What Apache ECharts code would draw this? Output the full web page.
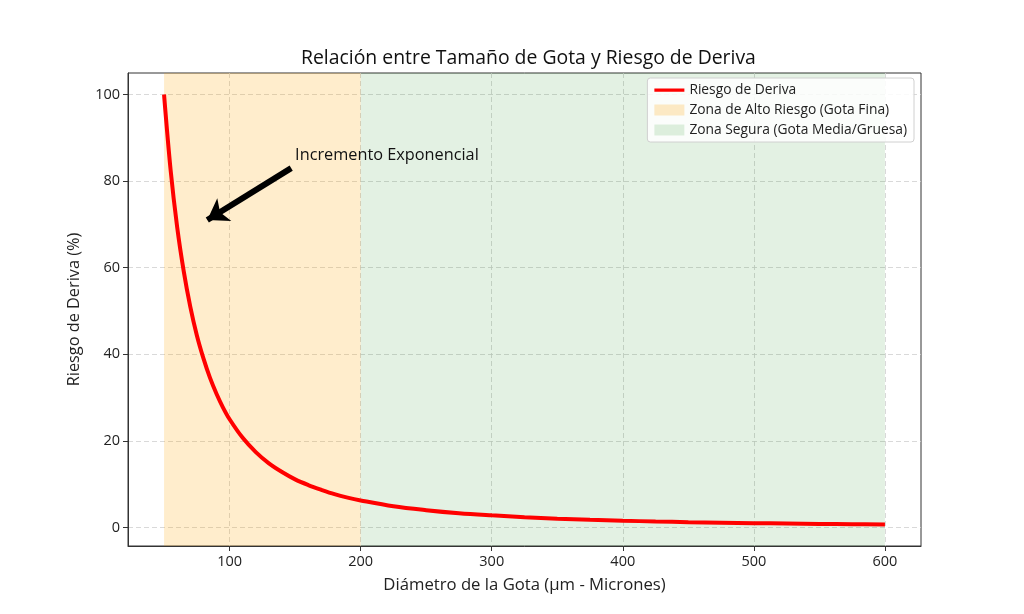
<!DOCTYPE html>
<html><head><meta charset="utf-8">
<script src="https://cdn.jsdelivr.net/npm/echarts@6/dist/echarts.min.js"></script>
<style>html,body{margin:0;padding:0;background:#fff}#c{width:1024px;height:614px}</style>
</head><body><div id="c"></div>
<script>
const diameters = [50,55,60,65,70,75,80,85,90,95,100,110,120,130,140,150,160,170,180,190,200,225,250,275,300,325,350,375,400,425,450,475,500,525,550,575,600];
const risk = [100,82.6,69.4,59.2,51.0,44.4,39.1,34.6,30.9,27.7,25.0,20.7,17.4,14.8,12.8,11.1,9.8,8.7,7.7,6.9,6.25,4.9,4.0,3.3,2.8,2.37,2.04,1.78,1.56,1.38,1.23,1.11,1.0,0.91,0.83,0.76,0.69];
const xTicks = [100,200,300,400,500,600];
const yTicks = [0,20,40,60,80,100];
const highRiskZone = [50,200];
const safeZone = [200,600];
const arrowFrom = [147,83];
const arrowTo = [83,71];
const annotationAt = [150,86];
const annotationText = 'Incremento Exponencial';

const FONT = 'Open Sans';
const chart = echarts.init(document.getElementById('c'));
const axisText = {color:'#222', fontSize:14.5, fontFamily:FONT};
const lineIcon = 'path://M0,0 L0,0 Z M0,11 L0,11 Z M0,4 L30,4 L30,7.2 L0,7.2 Z';
chart.setOption({
  animation:false,
  backgroundColor:'#fff',
  textStyle:{fontFamily:FONT},
  title:{text:'Relación entre Tamaño de Gota y Riesgo de Deriva', left:296, top:44,
    textStyle:{fontSize:19.4, fontWeight:'normal', color:'#111', fontFamily:FONT}},
  grid:{left:128, right:103, top:73, bottom:68, show:true, borderColor:'#333', borderWidth:1, backgroundColor:'transparent'},
  legend:{orient:'vertical', right:110, top:78, padding:[5,7], itemGap:6, itemWidth:30, itemHeight:11,
    backgroundColor:'rgba(255,255,255,0.85)', borderColor:'#d0d0d0', borderWidth:1, borderRadius:3,
    textStyle:{fontSize:13.8, color:'#222', fontFamily:FONT},
    data:[{name:'Riesgo de Deriva', icon:lineIcon},
          {name:'Zona de Alto Riesgo (Gota Fina)', icon:'rect'},
          {name:'Zona Segura (Gota Media/Gruesa)', icon:'rect'}]},
  xAxis:{type:'value', min:22.5, max:627.5, name:'Diámetro de la Gota (µm - Micrones)', nameLocation:'middle', nameGap:31,
    nameTextStyle:{fontSize:16.7, color:'#222', fontFamily:FONT},
    axisLine:{show:true, onZero:false, lineStyle:{color:'#333'}},
    axisTick:{show:true, customValues:xTicks, length:5, lineStyle:{color:'#333'}},
    axisLabel:{customValues:xTicks, margin:8, ...axisText},
    splitLine:{show:true, lineStyle:{color:'#cfcfcf', type:[5,3], width:0.8}}},
  yAxis:{type:'value', min:-4.28, max:104.97, name:'Riesgo de Deriva (%)', nameLocation:'middle', nameGap:46,
    nameTextStyle:{fontSize:16.3, color:'#222', fontFamily:FONT},
    axisLine:{show:true, onZero:false, lineStyle:{color:'#333'}},
    axisTick:{show:true, customValues:yTicks, length:5, lineStyle:{color:'#333'}},
    axisLabel:{customValues:yTicks, margin:8, ...axisText},
    splitLine:{show:true, lineStyle:{color:'#cfcfcf', type:[5,3], width:0.8}}},
  series:[
    {name:'Zona de Alto Riesgo (Gota Fina)', type:'line', data:[], itemStyle:{color:'rgba(255,165,0,0.22)'},
      markArea:{silent:true, itemStyle:{color:'rgba(255,165,0,0.2)'}, data:[[{xAxis:highRiskZone[0]},{xAxis:highRiskZone[1]}]]}},
    {name:'Zona Segura (Gota Media/Gruesa)', type:'line', data:[], itemStyle:{color:'rgba(0,128,0,0.12)'},
      markArea:{silent:true, itemStyle:{color:'rgba(0,128,0,0.11)'}, data:[[{xAxis:safeZone[0]},{xAxis:safeZone[1]}]]}},
    {name:'Riesgo de Deriva', type:'line', smooth:0.35, symbol:'none', z:5,
      data:diameters.map((d,i)=>[d,risk[i]]),
      itemStyle:{color:'#ff0000'}, lineStyle:{color:'#ff0000', width:4},
      markLine:{silent:true, symbol:['none','arrow'], symbolSize:[20,20],
        lineStyle:{color:'#000', width:6, type:'solid'}, label:{show:false},
        data:[[{coord:arrowFrom},{coord:arrowTo}]]},
      markPoint:{silent:true, symbol:'circle', symbolSize:0,
        label:{show:true, position:'right', offset:[-5,0], formatter:annotationText, fontSize:16.3, color:'#111', fontFamily:FONT},
        data:[{coord:annotationAt}]}}
  ]
});
</script></body></html>
